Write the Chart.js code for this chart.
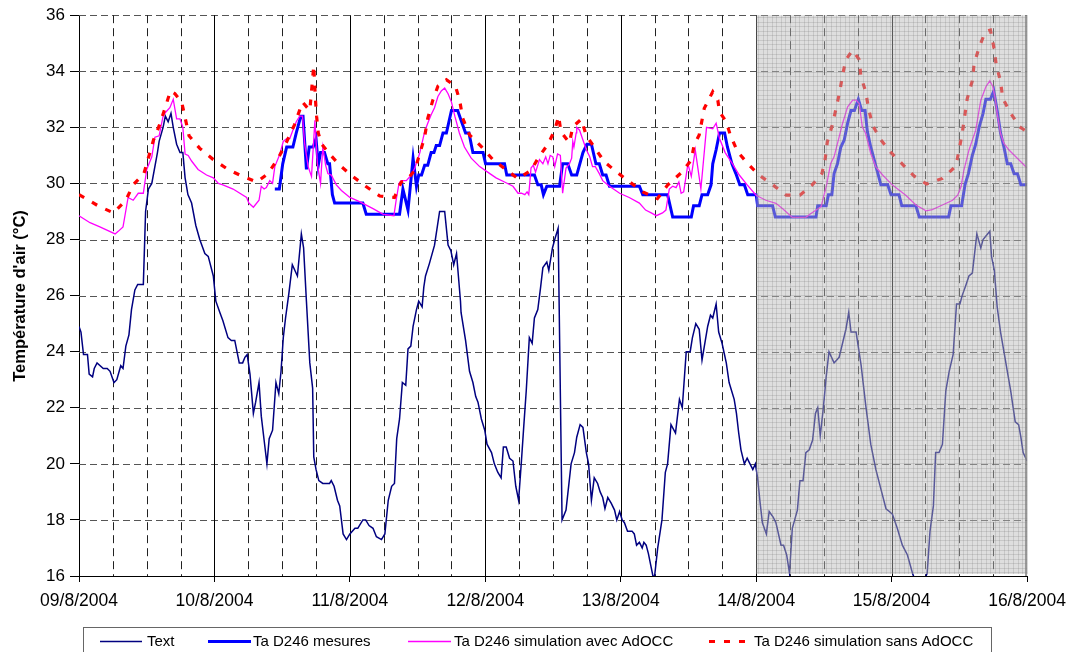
<!DOCTYPE html>
<html>
<head>
<meta charset="utf-8">
<script src="https://cdn.jsdelivr.net/npm/chart.js@4/dist/chart.umd.min.js"></script>
<style>
html,body{margin:0;padding:0;background:#fff;}
#wrap{width:1075px;height:652px;position:relative;}
</style>
</head>
<body>
<div id="wrap"><canvas id="c" width="1075" height="652"></canvas></div>
<script>
// ---- Data (x in hours since 09/8/2004 00:00) ----
const dayLabels = ["09/8/2004","10/8/2004","11/8/2004","12/8/2004","13/8/2004","14/8/2004","15/8/2004","16/8/2004"];
const yTitle = "Température d'air (°C)";
const seriesNames = ["Text","Ta D246 mesures","Ta D246 simulation avec AdOCC","Ta D246 simulation sans AdOCC"];

const textHours = [0,0.35,0.8,1.5,1.8,2.4,2.7,3.2,4.3,5.0,5.5,6.2,6.7,7.4,7.8,8.3,8.85,9.3,9.9,10.4,11.4,11.8,12.3,12.9,13.9,14.2,14.9,15.3,15.8,16.3,16.7,17.3,17.9,18.4,18.8,19.3,19.95,20.7,21.4,22.3,22.9,23.8,
24.25,24.96,25.5,26.4,27.0,27.6,28.4,29.0,29.4,29.8,30.3,30.9,31.3,31.9,32.3,32.8,33.3,33.7,34.3,34.9,35.4,35.8,36.2,36.6,37.2,37.8,38.7,39.4,39.8,40.3,40.9,41.4,41.6,42.0,42.5,43.2,44.4,44.7,45.2,45.8,46.2,46.8,47.4,48.0,
48.9,49.4,50.3,50.8,51.4,52.1,52.7,53.6,54.2,54.8,55.4,55.9,56.3,56.8,57.3,57.9,58.3,58.8,59.2,59.8,60.2,60.8,61.1,61.4,62.1,63.0,63.3,63.9,64.8,65.4,65.9,66.4,66.9,67.6,67.7,68.5,69.2,69.8,70.3,70.7,71.3,71.9,
72.3,73.1,73.6,74.2,74.8,75.2,75.7,76.3,76.9,77.4,77.9,78.4,78.8,79.25,79.8,80.3,80.7,81.3,81.8,82.2,82.9,83.25,83.9,84.3,84.9,85.6,86.3,87.2,87.8,88.2,88.8,89.3,89.9,90.3,90.8,91.3,91.9,92.35,92.8,93.2,93.7,94.3,94.9,95.3,95.8,
96.25,96.65,97.2,98.0,98.4,98.8,99.3,99.8,100.1,100.5,100.9,101.3,101.7,102.0,102.55,103.3,103.9,104.3,104.9,105.7,106.4,106.9,107.6,108.3,108.7,109.3,109.9,110.4,111.4,111.9,112.3,112.9,113.35,113.95,114.7,115.2,116.1,116.5,116.9,117.3,117.9,118.4,118.9,119.4,119.85,
120.25,120.7,121.1,121.8,122.3,123.0,123.5,124.4,124.85,125.4,125.9,126.4,127.3,127.75,128.3,128.8,129.4,130.0,130.5,130.9,131.35,131.9,132.4,132.9,133.8,134.7,135.3,135.9,136.4,136.8,137.7,138.6,139.4,140.3,141.2,142.1,143.0,143.6,
144.15,145.0,145.9,146.8,147.7,148.9,150.3,150.8,151.4,151.8,152.4,153.0,153.6,154.2,154.9,155.5,156.1,156.5,157.2,157.7,158.3,159.1,159.8,160.2,161.0,161.4,161.7,162.2,162.7,163.3,163.9,164.5,165.1,165.9,166.5,166.9,167.3,168];
const textTemps = [24.9,24.7,23.9,23.9,23.2,23.1,23.4,23.6,23.4,23.4,23.3,22.9,23.0,23.5,23.4,24.2,24.6,25.5,26.2,26.4,26.4,29.0,29.8,30.0,31.1,31.5,32.0,32.4,32.2,32.5,32.0,31.4,31.1,31.1,30.2,29.6,29.3,28.5,28.0,27.5,27.4,26.7,
25.8,25.4,25.1,24.5,24.4,24.4,23.6,23.6,23.8,23.9,23.2,21.8,22.2,22.9,21.7,20.85,20.0,20.9,21.2,22.9,22.5,23.3,24.5,25.2,26.1,27.1,26.7,28.2,27.7,25.8,23.6,22.7,20.25,19.8,19.4,19.3,19.3,19.4,19.2,18.7,18.5,17.5,17.3,17.5,
17.7,17.7,18.0,18.0,17.8,17.7,17.4,17.3,17.5,18.7,19.2,19.3,20.9,21.6,22.9,22.8,24.1,24.2,24.9,25.5,25.8,25.6,26.3,26.7,27.15,27.8,28.2,29.0,29.0,27.8,27.6,27.1,27.5,25.8,25.4,24.4,23.3,22.9,22.4,22.2,21.6,21.2,
20.7,20.4,20.0,19.7,19.5,20.6,20.6,20.2,20.1,19.2,18.7,20.1,21.3,22.6,24.5,24.3,25.2,25.5,26.3,27.0,27.2,26.9,27.7,28.0,28.4,18.0,18.35,20.0,20.4,20.95,21.4,21.3,20.4,20.0,18.7,19.5,19.3,19.0,18.8,18.4,18.8,18.6,18.35,18.0,18.3,
18.0,17.9,17.6,17.6,17.5,17.1,17.2,17.0,17.2,17.1,16.8,16.4,16.0,16.0,17.0,18.0,19.7,20.0,21.4,21.1,22.3,22.0,24.0,24.0,24.5,25.0,24.8,23.7,24.9,25.3,25.2,25.7,24.7,24.3,23.6,22.9,22.3,21.8,21.1,20.5,20.0,20.2,20.0,19.8,20.0,
19.5,18.6,17.9,17.5,18.3,18.1,17.9,17.1,17.1,16.75,16.1,17.7,18.35,19.4,19.4,20.4,20.5,20.85,21.8,22.0,21.0,22.0,23.1,24.0,23.6,23.8,24.3,24.8,25.4,24.7,24.7,23.5,22.1,20.7,19.8,19.1,18.4,18.3,
18.2,17.7,17.1,16.75,16.1,15.4,16.1,17.6,18.5,20.4,20.4,20.7,22.6,23.3,23.9,25.7,25.7,26.0,26.4,26.7,26.8,28.2,27.7,28.0,28.2,28.3,27.4,26.9,25.6,24.7,24.0,23.3,22.6,21.5,21.4,20.95,20.4,20.1];

const mesHours = [34.7,35.5,36.1,36.8,37.9,38.5,39.3,39.7,40.3,40.8,41.5,42.0,42.4,42.8,43.5,44.1,44.4,44.9,45.3,50.3,50.9,56.8,57.4,58.3,59.2,59.8,60.2,60.7,61.25,61.8,62.4,62.9,63.3,63.9,64.5,65.1,66.0,67.1,67.7,68.5,69.1,69.8,71.6,
72.05,75.4,75.8,80.7,81.3,81.9,82.3,82.9,85.15,85.7,86.6,87.3,88.2,89.3,90.0,90.8,91.6,92.2,92.8,93.4,94.0,99.3,99.9,104.3,105.2,108.5,108.9,109.9,110.4,111.4,112.0,112.3,112.9,113.5,114.4,114.9,115.7,116.4,117.1,117.9,118.5,
120.0,120.25,122.9,123.4,130.6,130.9,132.4,132.8,133.4,133.8,134.4,135.0,135.6,136.2,136.8,137.4,138.1,138.7,139.3,139.7,140.3,141.1,141.7,142.1,143.3,143.9,145.3,145.8,148.3,148.9,154.1,154.5,156.4,157.0,157.6,158.3,158.9,
159.5,160.2,160.7,161.5,162.1,162.7,163.3,163.9,164.5,165.1,165.7,166.3,166.9,168];
const mesTemps = [29.8,29.8,30.7,31.3,31.3,31.8,32.4,32.4,30.5,31.3,31.3,31.6,30.65,31.1,31.1,30.7,30.7,29.6,29.3,29.3,28.9,28.9,29.8,29.05,30.9,29.9,30.3,30.3,30.65,30.65,31.1,31.1,31.35,31.35,31.8,31.8,32.6,32.6,32.25,31.8,31.8,31.1,31.1,
30.7,30.7,30.3,30.3,29.95,29.95,29.6,29.9,29.9,30.7,30.7,30.3,30.3,31.1,31.4,31.4,30.7,30.7,30.3,30.3,29.9,29.9,29.6,29.6,28.8,28.8,29.2,29.2,29.6,29.6,29.95,30.7,31.2,31.8,31.8,31.3,30.7,30.35,29.95,29.95,29.6,
29.6,29.2,29.2,28.8,28.8,29.2,29.2,29.6,29.6,30.35,30.7,31.3,31.55,32.15,32.6,32.6,33.0,32.6,32.6,31.85,31.3,30.7,30.25,29.95,29.95,29.6,29.6,29.2,29.2,28.8,28.8,29.2,29.2,29.95,30.35,31.0,31.4,
32.0,32.5,33.0,33.0,33.3,32.6,31.8,31.3,30.7,30.7,30.35,30.35,29.95,29.95];

const avecHours = [0,1.95,3.7,6.4,7.0,7.8,8.7,9.6,10.5,11.4,12.0,12.9,13.45,14.2,14.9,15.4,16.1,16.7,17.3,17.9,18.4,18.8,19.35,19.95,21.1,22.6,23.8,24.7,25.5,27.3,29.7,30.1,30.9,31.9,32.3,32.8,33.2,33.8,34.3,34.7,35.6,36.2,36.8,37.35,37.9,38.5,39.1,39.6,
40.0,40.6,41.2,41.8,42.25,42.8,43.2,43.7,44.1,44.7,45.6,46.5,48.0,49.7,52.1,53.9,55.8,56.2,56.7,57.1,58.0,58.9,59.5,60.4,61.25,61.8,62.4,63.0,63.6,64.2,64.8,65.4,66.0,66.6,67.4,68.3,69.5,71.0,72.8,73.9,75.4,76.9,77.8,78.4,79.0,79.4,79.7,
80.1,80.5,80.9,81.6,82.2,82.7,83.1,83.5,83.96,84.3,84.8,85.3,85.7,86.3,86.9,87.3,87.5,87.7,88.1,88.2,88.7,89.3,89.9,90.5,91.0,91.5,92.2,92.8,94.0,95.8,97.5,99.3,100.4,101.4,102.3,103.4,104.0,104.6,105.2,105.8,106.3,106.7,107.15,
107.9,108.5,109.2,110.2,111.2,112.3,112.9,113.5,114.5,115.8,117.0,118.4,119.97,121.7,123.5,124.7,126.4,128.8,129.7,131.5,132.4,133.2,133.8,134.7,135.3,136.2,137.1,137.7,138.25,138.8,139.4,140.3,141.2,142.4,144.15,146.5,148.3,
150.1,151.2,153.0,154.8,155.7,156.3,156.8,157.7,158.9,159.8,160.7,161.4,161.9,162.3,162.7,163.3,163.9,164.8,166.0,168];
const avecTemps = [28.85,28.6,28.45,28.2,28.3,28.45,29.5,29.4,29.65,29.65,30.5,30.95,31.65,31.7,32.4,32.55,32.7,33.0,32.3,32.3,32.0,31.05,31.0,30.8,30.5,30.3,30.2,30.0,29.95,29.8,29.5,29.3,29.15,29.4,29.9,29.8,29.85,30.1,30.0,30.6,31.05,31.5,31.6,31.6,31.9,32.2,32.4,32.4,
31.4,30.6,30.25,32.25,30.7,30.0,31.3,30.65,30.35,30.3,29.95,29.75,29.5,29.35,29.1,28.9,28.85,29.4,30.0,30.1,30.1,30.3,30.55,31.1,31.85,32.15,32.45,32.7,33.1,33.3,33.4,33.2,32.9,32.4,31.8,31.3,30.9,30.6,30.35,30.2,30.05,29.9,29.65,29.65,29.6,29.7,29.6,
30.55,30.65,30.4,30.85,30.7,30.95,30.7,31.0,30.95,30.6,31.05,31.0,29.65,30.55,30.7,30.9,31.5,31.3,31.8,32.0,31.9,31.55,31.2,30.95,30.6,30.6,30.35,30.1,29.9,29.65,29.5,29.3,29.05,28.95,28.85,28.95,29.05,29.8,29.9,29.85,30.05,29.65,29.7,
30.7,30.25,31.2,29.8,32.0,31.95,32.15,31.6,31.1,30.7,30.3,29.95,29.58,29.4,29.29,29.1,28.79,28.79,28.93,29.17,29.88,30.71,30.95,31.66,32.14,32.73,32.97,32.97,32.85,32.02,31.78,31.07,30.59,30.3,29.94,29.58,29.23,
29.02,29.07,29.23,29.4,29.58,29.88,30.47,31.19,31.9,32.97,33.45,33.66,33.47,33.09,32.5,31.78,31.43,31.19,30.95,30.55];

const sansHours = [0,3.4,6.1,8.3,9.6,11.5,13.2,14.2,15.35,16.2,17.0,18.2,19.5,21.4,23.8,26.4,29.0,31.5,33.5,35.3,36.6,38.2,39.6,40.9,41.6,41.9,42.1,42.4,43.0,44.4,46.2,48.5,50.8,53.3,55.9,57.1,58.0,59.5,60.4,61.25,61.8,62.7,63.6,65.1,66.7,67.45,68.0,
69.2,71.3,73.3,75.4,77.8,80.1,81.5,83.1,84.3,85.0,85.4,86.9,87.5,89.0,89.9,91.3,93.1,95.2,97.8,99.9,102.5,104.3,106.7,108.5,109.0,109.9,110.8,112.3,113.2,113.5,114.7,115.4,116.7,118.5,120.5,123.0,125.3,127.75,129.9,131.65,132.2,
132.6,133.4,134.1,134.8,135.3,135.9,137.1,138.25,138.55,139.4,139.9,140.6,142.1,143.9,145.9,148.0,150.2,153.0,155.4,156.5,157.4,158.3,158.6,159.5,160.6,161.5,162.1,162.5,163.3,163.7,165.1,166.7,168];
const sansTemps = [29.6,29.2,28.95,29.4,29.95,30.35,31.55,32.05,32.75,33.3,33.2,32.9,31.7,31.25,30.85,30.5,30.25,30.05,30.35,30.9,31.4,32.1,32.9,32.6,34.2,33.0,32.4,31.8,31.4,31.05,30.65,30.25,29.9,29.55,29.5,30.05,30.1,30.47,31.07,31.66,32.32,32.97,33.47,33.7,33.47,32.97,32.32,
31.73,31.31,30.86,30.53,30.17,30.47,30.95,31.4,31.9,32.4,31.84,31.45,32.02,32.29,31.7,31.3,30.77,30.42,30.02,29.7,29.46,29.94,30.38,30.83,31.37,31.73,32.68,33.27,32.97,32.55,32.2,31.73,31.13,30.71,30.3,29.94,29.58,29.58,29.94,30.35,30.83,
31.48,32.02,32.62,33.27,33.86,34.42,34.75,34.42,33.82,33.27,32.68,32.08,31.55,31.1,30.69,30.26,29.98,30.18,30.62,31.78,33.03,33.66,34.25,34.85,35.41,35.47,34.87,34.28,33.63,33.03,32.5,32.02,31.84];

const shadedFrom = 120, shadedTo = 168;

function pts(hs, ts){ return hs.map((h,i)=>({x:h, y:ts[i]})); }

const FONT = "'Liberation Sans', Arial, sans-serif";

const gridPlugin = {
  id:'gridPlugin',
  beforeDatasetsDraw(chart){
    const {ctx, chartArea:a, scales:{x,y}} = chart;
    ctx.save();
    ctx.lineWidth = 1;
    ctx.strokeStyle = '#555';
    ctx.setLineDash([7,4]);
    for(let v=18; v<=36; v+=2){
      const py = Math.round(y.getPixelForValue(v))+0.5;
      ctx.beginPath(); ctx.moveTo(a.left, py); ctx.lineTo(a.right, py); ctx.stroke();
    }
    for(let h=6; h<168; h+=6){
      const px = Math.round(x.getPixelForValue(h))+0.5;
      if(h%24===0){ ctx.setLineDash([]); ctx.strokeStyle='#000'; }
      else { ctx.setLineDash([8,5]); ctx.strokeStyle='#222'; }
      ctx.beginPath(); ctx.moveTo(px, a.top); ctx.lineTo(px, a.bottom); ctx.stroke();
    }
    ctx.restore();
  },
  afterDatasetsDraw(chart){
    const {ctx, chartArea:a, scales:{x}} = chart;
    const x0 = x.getPixelForValue(shadedFrom), x1 = x.getPixelForValue(shadedTo);
    ctx.save();
    ctx.fillStyle = 'rgba(185,185,185,0.47)';
    ctx.fillRect(x0, a.top, x1-x0, a.bottom-a.top-2);
    ctx.strokeStyle = 'rgba(120,120,120,0.22)';
    ctx.lineWidth = 1;
    ctx.beginPath();
    for(let px=x0+2; px<x1; px+=4.55){ const q=Math.round(px)+0.5; ctx.moveTo(q,a.top); ctx.lineTo(q,a.bottom-2); }
    for(let py=a.top+2; py<a.bottom-2; py+=4.55){ const q=Math.round(py)+0.5; ctx.moveTo(x0,q); ctx.lineTo(x1,q); }
    ctx.stroke();
    ctx.strokeStyle = 'rgba(130,130,130,0.8)';
    ctx.lineWidth = 2;
    ctx.beginPath(); ctx.moveTo(x1-1, a.top); ctx.lineTo(x1-1, a.bottom); ctx.stroke();
    ctx.restore();
  },
  afterDraw(chart){
    const ctx = chart.ctx;
    ctx.save();
    ctx.translate(20, 296);
    ctx.rotate(-Math.PI/2);
    ctx.font = "bold 16.5px " + FONT;
    ctx.fillStyle = '#000';
    ctx.textAlign='center'; ctx.textBaseline='middle';
    ctx.fillText(yTitle, 0, 0);
    ctx.restore();
    ctx.save();
    ctx.strokeStyle = '#666'; ctx.lineWidth = 1;
    ctx.strokeRect(83.5, 627.5, 908, 40);
    const ly = 641;
    const items = [
      {x0:100, x1:142, tx:147, color:'#000080', w:1.5, dash:[]},
      {x0:208, x1:251, tx:253, color:'#0000ff', w:3, dash:[]},
      {x0:408, x1:451, tx:454, color:'#ff00ff', w:1.5, dash:[]},
      {x0:709, x1:750, tx:754, color:'#ff0000', w:3, dash:[6,9]}
    ];
    ctx.font = "15px " + FONT;
    ctx.textBaseline = 'middle'; ctx.textAlign='left';
    items.forEach((it,i)=>{
      ctx.strokeStyle = it.color; ctx.lineWidth = it.w; ctx.setLineDash(it.dash);
      ctx.beginPath(); ctx.moveTo(it.x0, ly+0.5); ctx.lineTo(it.x1, ly+0.5); ctx.stroke();
      ctx.fillStyle = '#000';
      ctx.fillText(seriesNames[i], it.tx, ly+1);
    });
    ctx.restore();
  }
};

new Chart(document.getElementById('c'), {
  type:'line',
  data:{
    datasets:[
      {label:seriesNames[0], data:pts(textHours,textTemps), borderColor:'#000080', borderWidth:1.5, order:3},
      {label:seriesNames[1], data:pts(mesHours,mesTemps), borderColor:'#0000ff', borderWidth:3, order:2},
      {label:seriesNames[2], data:pts(avecHours,avecTemps), borderColor:'#ff00ff', borderWidth:1.3, order:1},
      {label:seriesNames[3], data:pts(sansHours,sansTemps), borderColor:'#ff0000', borderWidth:3.2, borderDash:[6,9], borderCapStyle:'butt', order:0}
    ]
  },
  options:{
    responsive:false,
    animation:false,
    parsing:true,
    elements:{point:{radius:0}, line:{tension:0, fill:false}},
    layout:{padding:{left:0, top:15, right:47, bottom:0}},
    plugins:{legend:{display:false}, tooltip:{enabled:false}},
    scales:{
      x:{type:'linear', min:0, max:168,
        afterFit(s){ s.height = 76; },
        grid:{drawOnChartArea:false, drawTicks:true, tickLength:6, tickColor:'#000'},
        border:{display:true, color:'#000', width:1},
        ticks:{stepSize:24, autoSkip:false, maxRotation:0, padding:9, color:'#000', font:{family:FONT, size:17.5},
          callback:(v)=> dayLabels[Math.round(v/24)] }
      },
      y:{min:16, max:36,
        afterFit(s){ s.width = 79; },
        grid:{drawOnChartArea:false, drawTicks:true, tickLength:9, tickColor:'#000'},
        border:{display:true, color:'#000', width:1},
        ticks:{stepSize:2, padding:5, color:'#000', font:{family:FONT, size:17}}
      }
    }
  },
  plugins:[gridPlugin]
});
</script>
</body>
</html>
